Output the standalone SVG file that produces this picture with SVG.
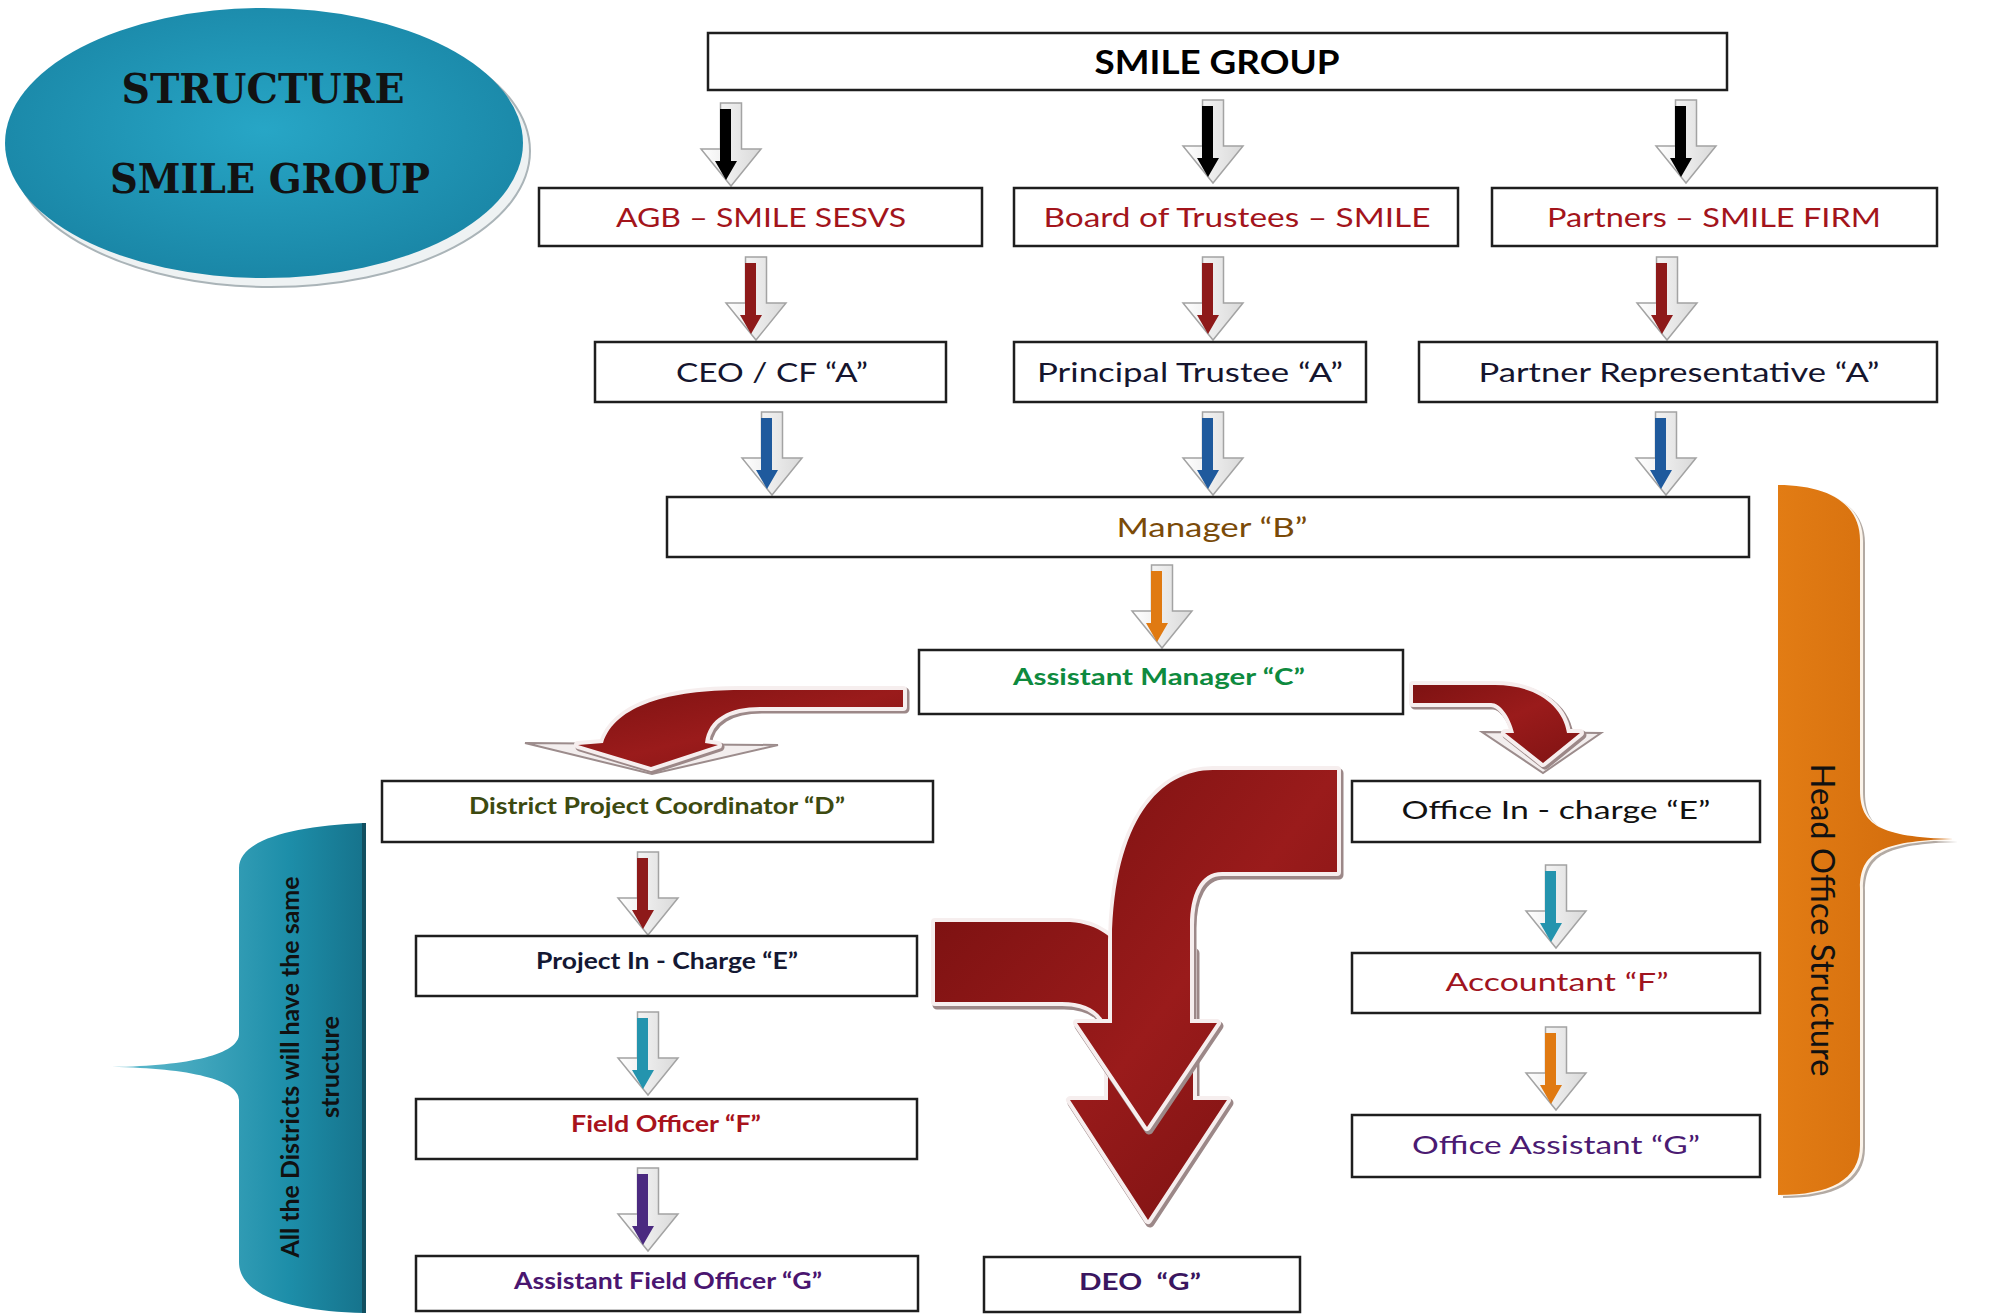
<svg xmlns="http://www.w3.org/2000/svg" xmlns:xlink="http://www.w3.org/1999/xlink" width="1996" height="1315" viewBox="0 0 1996 1315">
<style>
.box{fill:#fff;stroke:#1e1e1e;stroke-width:2.5}
.t{font-family:Lato,"Liberation Sans",sans-serif;text-anchor:middle}
.b{font-weight:bold}
.title{font-family:"DejaVu Serif","Liberation Serif",serif;font-weight:bold;font-size:41px;fill:#121212;text-anchor:middle}
.chev{fill:url(#chevG);stroke:#a3a3a3;stroke-width:1.5}
.rim{fill:none;stroke:#f6eeee;stroke-width:8;stroke-linejoin:round}
.rimsh{fill:none;stroke:#9c8888;stroke-width:9;stroke-linejoin:round}
.red{fill:url(#redG)}
</style>
<defs>
<linearGradient id="chevG" x1="0" y1="0" x2="1" y2="0">
<stop offset="0" stop-color="#ffffff"/><stop offset="1" stop-color="#d9d9d9"/>
</linearGradient>
<linearGradient id="redG" x1="0" y1="0" x2="1" y2="1">
<stop offset="0" stop-color="#7e1212"/><stop offset="0.5" stop-color="#9a1b1b"/><stop offset="1" stop-color="#801313"/>
</linearGradient>
<radialGradient id="tealG" cx="0.5" cy="0.45" r="0.6">
<stop offset="0" stop-color="#27a6c6"/><stop offset="1" stop-color="#1984a4"/>
</radialGradient>
<linearGradient id="tealB" x1="0" y1="0" x2="1" y2="0">
<stop offset="0" stop-color="#62bccf"/><stop offset="0.7" stop-color="#1d8ea9"/><stop offset="1" stop-color="#16738c"/>
</linearGradient>
<linearGradient id="orG" x1="0" y1="0" x2="1" y2="0">
<stop offset="0" stop-color="#e27c14"/><stop offset="1" stop-color="#cf690b"/>
</linearGradient>
<path id="outl" d="M-10.5,0 H10.5 V46 H30 L0,83 L-30,46 H-10.5 Z"/>
<path id="inn" d="M-11,6 H0 V58 H6 L-5,77 L-16,58 H-11 Z"/>
<path id="arrL" d="M903,690 L740,690 C670,690 615,705 603,743 L578,745 L651,767 L718,745 L705,743 C708,718 730,707 760,707 L903,707 Z"/>
<path id="arrR" d="M1413,685 L1495,685 C1535,685 1563,705 1567,733 L1580,733 L1543,763 L1505,733 L1514,733 C1510,716 1500,703 1491,703 L1413,703 Z"/>
<path id="arrA" d="M1337,770 L1213,770 C1160,770 1114,820 1112,940 L1112,1023 L1077,1023 L1147,1127 L1217,1023 L1190,1023 L1190,925 C1190,895 1200,872 1222,872 L1337,872 Z"/>
<path id="arrB" d="M935,922 L1070,922 C1100,924 1115,940 1120,950 L1193,950 L1193,1100 L1227,1100 L1148,1220 L1070,1100 L1108,1100 L1108,1040 C1108,1015 1090,1002 1062,1002 L935,1002 Z"/>
<path id="hob" d="M1778,485 C1830,485 1860,505 1860,540 L1860,790 C1860,825 1880,837 1953,839 C1880,841 1860,853 1860,888 L1860,1145 C1860,1180 1830,1195 1778,1195 Z"/>
<path id="dib" d="M364,823 L364,1313 C292,1311 239,1296 239,1262 L239,1100 C239,1080 190,1068 112,1067 C190,1066 239,1054 239,1034 L239,868 C239,840 292,826 364,823 Z"/>
</defs>

<g id="title">
<ellipse cx="271" cy="151" rx="259" ry="136" fill="#eef2f3" stroke="#aab4b8" stroke-width="2"/>
<ellipse cx="264" cy="143" rx="259" ry="135" fill="url(#tealG)"/>
<text class="title" x="263" y="103" textLength="283" lengthAdjust="spacingAndGlyphs">STRUCTURE</text>
<text class="title" x="270" y="193" textLength="320" lengthAdjust="spacingAndGlyphs">SMILE GROUP</text>
</g>

<g id="head-office-brace">
<use xlink:href="#hob" transform="translate(5,3)" fill="#b3aaa3"/>
<use xlink:href="#hob" transform="translate(3,1)" fill="#fcf4ea"/>
<use xlink:href="#hob" fill="url(#orG)"/>
<text class="t" transform="translate(1811,920) rotate(90)" font-size="32" fill="#111" textLength="313" lengthAdjust="spacingAndGlyphs">Head Office Structure</text>
</g>

<g id="districts-brace">
<use xlink:href="#dib" fill="url(#tealB)"/>
<line x1="364" y1="823" x2="364" y2="1313" stroke="#114f60" stroke-width="4"/>
<text class="t b" transform="translate(299,1067) rotate(-90)" font-size="24" fill="#111" textLength="381" lengthAdjust="spacingAndGlyphs">All the Districts will have the same</text>
<text class="t b" transform="translate(339,1067) rotate(-90)" font-size="24" fill="#111" textLength="102" lengthAdjust="spacingAndGlyphs">structure</text>
</g>

<g id="connectors">
<g id="a1"><use xlink:href="#outl" class="chev" transform="translate(731,103)"/><use xlink:href="#inn" fill="#000" transform="translate(731,103)"/></g>
<g id="a2"><use xlink:href="#outl" class="chev" transform="translate(1213,100)"/><use xlink:href="#inn" fill="#000" transform="translate(1213,100)"/></g>
<g id="a3"><use xlink:href="#outl" class="chev" transform="translate(1686,100)"/><use xlink:href="#inn" fill="#000" transform="translate(1686,100)"/></g>
<g id="a4"><use xlink:href="#outl" class="chev" transform="translate(756,257)"/><use xlink:href="#inn" fill="#8e1a1a" transform="translate(756,257)"/></g>
<g id="a5"><use xlink:href="#outl" class="chev" transform="translate(1213,257)"/><use xlink:href="#inn" fill="#8e1a1a" transform="translate(1213,257)"/></g>
<g id="a6"><use xlink:href="#outl" class="chev" transform="translate(1667,257)"/><use xlink:href="#inn" fill="#8e1a1a" transform="translate(1667,257)"/></g>
<g id="a7"><use xlink:href="#outl" class="chev" transform="translate(772,412)"/><use xlink:href="#inn" fill="#1f5a9d" transform="translate(772,412)"/></g>
<g id="a8"><use xlink:href="#outl" class="chev" transform="translate(1213,412)"/><use xlink:href="#inn" fill="#1f5a9d" transform="translate(1213,412)"/></g>
<g id="a9"><use xlink:href="#outl" class="chev" transform="translate(1666,412)"/><use xlink:href="#inn" fill="#1f5a9d" transform="translate(1666,412)"/></g>
<g id="a10"><use xlink:href="#outl" class="chev" transform="translate(1162,565)"/><use xlink:href="#inn" fill="#e07a12" transform="translate(1162,565)"/></g>
<g id="a11"><use xlink:href="#outl" class="chev" transform="translate(648,852)"/><use xlink:href="#inn" fill="#8e1a1a" transform="translate(648,852)"/></g>
<g id="a12"><use xlink:href="#outl" class="chev" transform="translate(648,1012)"/><use xlink:href="#inn" fill="#2494ae" transform="translate(648,1012)"/></g>
<g id="a13"><use xlink:href="#outl" class="chev" transform="translate(648,1168)"/><use xlink:href="#inn" fill="#4b2a80" transform="translate(648,1168)"/></g>
<g id="a14"><use xlink:href="#outl" class="chev" transform="translate(1556,865)"/><use xlink:href="#inn" fill="#2494ae" transform="translate(1556,865)"/></g>
<g id="a15"><use xlink:href="#outl" class="chev" transform="translate(1556,1027)"/><use xlink:href="#inn" fill="#e07a12" transform="translate(1556,1027)"/></g>
<g id="curve-left">
<path d="M525,743 L778,745 L652,774 Z" fill="#f3eeee" stroke="#9c8c8c" stroke-width="2"/>
<use xlink:href="#arrL" class="rimsh" transform="translate(2,2)"/>
<use xlink:href="#arrL" class="rim"/>
<use xlink:href="#arrL" class="red"/>
</g>
<g id="curve-right">
<path d="M1482,732 L1601,733 L1543,773 Z" fill="#f3eeee" stroke="#9c8c8c" stroke-width="2"/>
<use xlink:href="#arrR" class="rimsh" transform="translate(2,2)"/>
<use xlink:href="#arrR" class="rim"/>
<use xlink:href="#arrR" class="red"/>
</g>
<g id="big-arrow-left">
<use xlink:href="#arrB" class="rimsh" transform="translate(2,3)"/>
<use xlink:href="#arrB" class="rim"/>
<use xlink:href="#arrB" class="red"/>
</g>
<g id="big-arrow-right">
<use xlink:href="#arrA" class="rimsh" transform="translate(2,3)"/>
<use xlink:href="#arrA" class="rim"/>
<use xlink:href="#arrA" class="red"/>
</g>
</g>

<g id="n-smile"><rect class="box" x="708" y="33" width="1019" height="57"/><text class="t b" x="1217" y="74" font-size="32" fill="#000" textLength="245" lengthAdjust="spacingAndGlyphs">SMILE GROUP</text></g>
<g id="n-agb"><rect class="box" x="539" y="188" width="443" height="58"/><text class="t" x="761" y="227" font-size="26.5" fill="#a3141b" textLength="290" lengthAdjust="spacingAndGlyphs">AGB – SMILE SESVS</text></g>
<g id="n-board"><rect class="box" x="1014" y="188" width="444" height="58"/><text class="t" x="1237" y="227" font-size="26.5" fill="#a3141b" textLength="387" lengthAdjust="spacingAndGlyphs">Board of Trustees – SMILE</text></g>
<g id="n-partners"><rect class="box" x="1492" y="188" width="445" height="58"/><text class="t" x="1714" y="227" font-size="26.5" fill="#a3141b" textLength="334" lengthAdjust="spacingAndGlyphs">Partners – SMILE FIRM</text></g>
<g id="n-ceo"><rect class="box" x="595" y="342" width="351" height="60"/><text class="t" x="772" y="382" font-size="26.5" fill="#15152e" textLength="192" lengthAdjust="spacingAndGlyphs">CEO / CF “A”</text></g>
<g id="n-principal"><rect class="box" x="1014" y="342" width="352" height="60"/><text class="t" x="1190" y="382" font-size="26.5" fill="#15152e" textLength="306" lengthAdjust="spacingAndGlyphs">Principal Trustee “A”</text></g>
<g id="n-partnerrep"><rect class="box" x="1419" y="342" width="518" height="60"/><text class="t" x="1679" y="382" font-size="26.5" fill="#15152e" textLength="401" lengthAdjust="spacingAndGlyphs">Partner Representative “A”</text></g>
<g id="n-manager"><rect class="box" x="667" y="497" width="1082" height="60"/><text class="t" x="1212" y="537" font-size="26.5" fill="#7a4a08" textLength="191" lengthAdjust="spacingAndGlyphs">Manager “B”</text></g>
<g id="n-asstmgr"><rect class="box" x="919" y="650" width="484" height="64"/><text class="t b" x="1159" y="685" font-size="23.7" fill="#0e8a3e" textLength="292" lengthAdjust="spacingAndGlyphs">Assistant Manager “C”</text></g>
<g id="n-dpc"><rect class="box" x="382" y="781" width="551" height="61"/><text class="t b" x="657" y="814" font-size="22.3" fill="#3d4a10" textLength="376" lengthAdjust="spacingAndGlyphs">District Project Coordinator “D”</text></g>
<g id="n-pic"><rect class="box" x="416" y="936" width="501" height="60"/><text class="t b" x="667" y="969" font-size="23.7" fill="#141833" textLength="262" lengthAdjust="spacingAndGlyphs">Project In - Charge “E”</text></g>
<g id="n-fo"><rect class="box" x="416" y="1099" width="501" height="60"/><text class="t b" x="666" y="1132" font-size="23.7" fill="#a8121c" textLength="190" lengthAdjust="spacingAndGlyphs">Field Officer “F”</text></g>
<g id="n-afo"><rect class="box" x="416" y="1256" width="502" height="55"/><text class="t b" x="668" y="1289" font-size="23.7" fill="#4a1670" textLength="308" lengthAdjust="spacingAndGlyphs">Assistant Field Officer “G”</text></g>
<g id="n-deo"><rect class="box" x="984" y="1257" width="316" height="55"/><text class="t b" x="1140" y="1290" font-size="23.7" fill="#3a1660" textLength="122" lengthAdjust="spacingAndGlyphs" xml:space="preserve">DEO  “G”</text></g>
<g id="n-oic"><rect class="box" x="1352" y="781" width="408" height="61"/><text class="t" x="1556" y="819" font-size="25" fill="#111" textLength="309" lengthAdjust="spacingAndGlyphs">Office In - charge “E”</text></g>
<g id="n-acc"><rect class="box" x="1352" y="953" width="408" height="60"/><text class="t" x="1557" y="991" font-size="25" fill="#a0141e" textLength="223" lengthAdjust="spacingAndGlyphs">Accountant “F”</text></g>
<g id="n-oa"><rect class="box" x="1352" y="1115" width="408" height="62"/><text class="t" x="1556" y="1154" font-size="25" fill="#4b1a72" textLength="288" lengthAdjust="spacingAndGlyphs">Office Assistant “G”</text></g>
</svg>
